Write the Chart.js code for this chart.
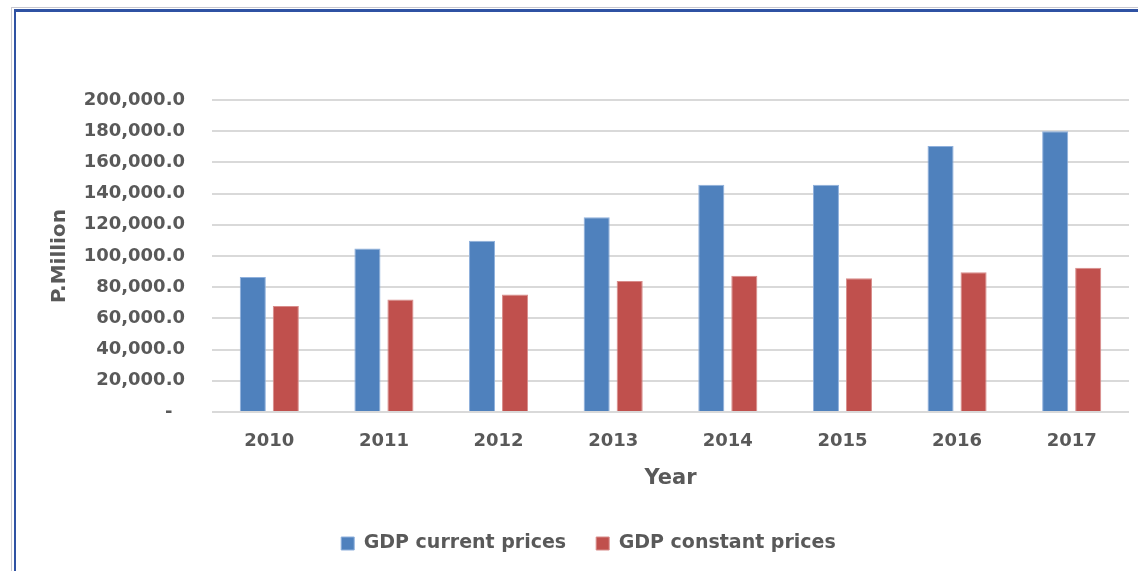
<!DOCTYPE html>
<html>
<head>
<meta charset="utf-8">
<script src="https://cdn.jsdelivr.net/npm/chart.js@4"></script>
<style>
  body { margin: 0; background: #fff; }
  #wrap { position: relative; width: 1138px; height: 571px; overflow: hidden; }
  #frameOuter { position: absolute; left: 11px; top: 7px; right: -10px; bottom: -10px; border-left: 1px solid #c8c8d0; border-top: 1px solid #c8c8d0; }
  #frame { position: absolute; left: 14px; top: 9px; right: -10px; bottom: -10px; border-left: 2px solid #2f52a3; border-top: 3px solid #2f52a3; }
  canvas { position: absolute; left: 0; top: 0; }
</style>
</head>
<body>
<div id="wrap">
  <div id="frameOuter"></div>
  <div id="frame"></div>
  <canvas id="myChart" width="1138" height="571"></canvas>
</div>
<script>
const years = ['2010', '2011', '2012', '2013', '2014', '2015', '2016', '2017'];
const gdpCurrent = [86600, 104800, 109700, 124900, 145600, 145600, 170500, 179900];
const gdpConstant = [68000, 72100, 75300, 83900, 87300, 85800, 89600, 92400];

const textColor = '#595959';
const fontFamily = '"DejaVu Sans", sans-serif';

const ctx = document.getElementById('myChart');
const myChart = new Chart(ctx, {
	type: 'bar',
	data: {
		labels: years,
		datasets: [{
			label: 'GDP current prices',
			data: gdpCurrent,
			backgroundColor: '#4f81bd',
			borderColor: '#8fb0dc',
			borderWidth: 1
		}, {
			label: 'GDP constant prices',
			data: gdpConstant,
			backgroundColor: '#c0504d',
			borderColor: '#d88c8a',
			borderWidth: 1
		}]
	},
	options: {
		responsive: false,
		animation: false,
		categoryPercentage: 0.576,
		barPercentage: 0.79,
		layout: {
			padding: { left: 48, right: 9, top: 100, bottom: 8 }
		},
		plugins: {
			tooltip: { enabled: false },
			legend: {
				position: 'bottom',
				labels: {
					color: textColor,
					font: { family: fontFamily, size: 19, weight: 'bold' },
					boxWidth: 13,
					boxHeight: 13,
					padding: 30
				}
			}
		},
		scales: {
			x: {
				grid: { display: false },
				border: { display: false },
				ticks: {
					color: textColor,
					font: { family: fontFamily, size: 18, weight: 'bold' },
					padding: 11
				},
				title: {
					display: true,
					text: 'Year',
					color: textColor,
					font: { family: fontFamily, size: 21, weight: 'bold' },
					padding: { top: 8, bottom: 13 }
				},
				afterFit: function (scale) { scale.height = 92; }
			},
			y: {
				min: 0,
				max: 200000,
				border: { display: false },
				grid: { color: '#d9d9d9', lineWidth: 2, drawTicks: false },
				ticks: {
					stepSize: 20000,
					color: textColor,
					font: { family: fontFamily, size: 18, weight: 'bold' },
					padding: 27,
					callback: function (v) {
						// zero shows as a dash, like the accounting format
						if (v === 0) return '-  ';
						return v.toLocaleString('en-US', { minimumFractionDigits: 1, maximumFractionDigits: 1 });
					}
				},
				title: {
					display: true,
					text: 'P.Million',
					color: textColor,
					font: { family: fontFamily, size: 20, weight: 'bold' },
					padding: { top: 0, bottom: 0 }
				},
				afterFit: function (scale) { scale.width = 164; }
			}
		}
	}
});
</script>
</body>
</html>
